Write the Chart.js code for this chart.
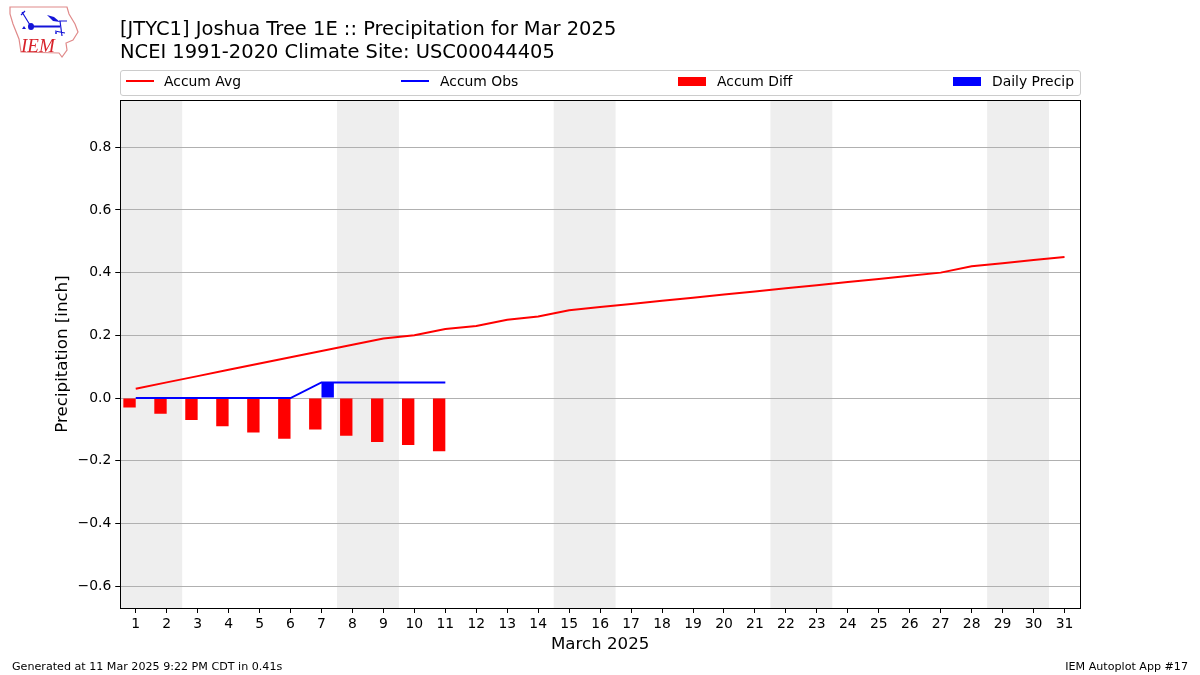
<!DOCTYPE html>
<html lang="en">
<head>
    <meta charset="UTF-8">
    <title>Precipitation for Mar 2025</title>
    <script src="https://cdn.jsdelivr.net/npm/chart.js@4.4.1/dist/chart.umd.min.js"></script>
    <style>
        html, body { margin: 0; padding: 0; background: #fff; }
        body { width: 1200px; height: 675px; position: relative; overflow: hidden; font-family: "DejaVu Sans", sans-serif; color: #000; }
        #chart { position: absolute; left: 0; top: 0; }
        #logo { position: absolute; left: 0; top: 0; }
        #title { position: absolute; left: 120px; top: 18px; font-size: 19.47px; line-height: 22.5px; white-space: nowrap; }
        #legend { position: absolute; left: 120px; top: 70px; box-sizing: border-box; height: 25.5px; width: 961px; border: 1px solid #ccc; border-radius: 3px; }
        #legend span { position: absolute; top: 1px; font-size: 13.9px; line-height: 18px; white-space: nowrap; }
        #legend i { position: absolute; width: 28px; }
        #foot-left, #foot-right { position: absolute; top: 660px; font-size: 11.12px; line-height: 14px; white-space: nowrap; }
        #foot-left { left: 12px; }
        #foot-right { right: 12px; }
    </style>
</head>
<body>
    <canvas id="chart" width="1200" height="675"></canvas>
    <svg id="logo" width="90" height="65" viewBox="0 0 90 65">
        <path d="M10 7 L67 7 L69 14 L75 24 L78 32 L73 40 L66 43 L67 50 L62 57 L59 53 L21 52 L19 39 L13 24 L10 14 Z" fill="#fff" stroke="#e08a8a" stroke-width="1.2"/>
        <g stroke="#1414d8" fill="#1414d8">
            <path d="M31 26.5 L60 26.5" stroke-width="2" fill="none"/>
            <path d="M59 21 L67 21 M60 21 L62 36 M22 12 L30 25 M21 15 L25 11 M55 31 L65 33" stroke-width="1.2" fill="none"/>
            <path d="M47 15 L54 17 L60 22 L53 21 Z" stroke="none"/>
            <ellipse cx="31" cy="26.5" rx="3" ry="3.6" stroke="none"/>
            <path d="M22 29 L24 26 L26 29 Z" stroke="none"/>
            <circle cx="56" cy="33" r="1" stroke="none"/>
        </g>
        <text x="21" y="51.5" font-family="Liberation Serif" font-style="italic" font-size="19" fill="#d8222a">IEM</text>
    </svg>
    <div id="title">[JTYC1] Joshua Tree 1E :: Precipitation for Mar 2025<br>NCEI 1991-2020 Climate Site: USC00044405</div>
    <div id="legend"></div>
    <div id="foot-left">Generated at 11 Mar 2025 9:22 PM CDT in 0.41s</div>
    <div id="foot-right">IEM Autoplot App #17</div>
    <script>
        const days = ["1","2","3","4","5","6","7","8","9","10","11","12","13","14","15","16","17","18","19","20","21","22","23","24","25","26","27","28","29","30","31"];
        const accumAvg = [0.03,0.05,0.07,0.09,0.11,0.13,0.15,0.17,0.19,0.20,0.22,0.23,0.25,0.26,0.28,0.29,0.30,0.31,0.32,0.33,0.34,0.35,0.36,0.37,0.38,0.39,0.40,0.42,0.43,0.44,0.45];
        const accumObs = [0,0,0,0,0,0,0.05,0.05,0.05,0.05,0.05];
        const accumDiff = [-0.03,-0.05,-0.07,-0.09,-0.11,-0.13,-0.10,-0.12,-0.14,-0.15,-0.17];
        const dailyPrecip = [0,0,0,0,0,0,0.05,0,0,0,0];
        const yTicks = [-0.6,-0.4,-0.2,0,0.2,0.4,0.6,0.8];
        // first and last day of each weekend, shaded in grey
        const weekends = [[1,2],[8,9],[15,16],[22,23],[29,30]];

        const frame = {
            id: "frame",
            beforeDraw(chart) {
                const { ctx, chartArea, scales } = chart;
                ctx.save();
                ctx.fillStyle = "#eeeeee";
                weekends.forEach(w => {
                    // days are category indexes, so day d sits at index d-1
                    const x0 = scales.x.getPixelForValue(w[0] - 1.5);
                    const x1 = scales.x.getPixelForValue(w[1] - 0.5);
                    ctx.fillRect(x0, chartArea.top, x1 - x0, chartArea.bottom - chartArea.top);
                });
                ctx.restore();
            },
            afterDraw(chart) {
                const { ctx, chartArea } = chart;
                const left = Math.floor(chartArea.left) + 0.5;
                ctx.save();
                ctx.strokeStyle = "#000";
                ctx.lineWidth = 1;
                ctx.strokeRect(left, chartArea.top + 0.5, 960, chartArea.bottom - chartArea.top);
                ctx.restore();
            }
        };

        const chart = new Chart(document.getElementById("chart").getContext("2d"), {
            type: "bar",
            data: {
                labels: days,
                datasets: [
                    { type: "line", label: "Accum Avg", data: accumAvg, borderColor: "#ff0000", backgroundColor: "#ff0000", borderWidth: 2, pointRadius: 0, tension: 0, order: 1 },
                    { type: "line", label: "Accum Obs", data: accumObs, borderColor: "#0000ff", backgroundColor: "#0000ff", borderWidth: 2, pointRadius: 0, tension: 0, order: 2 },
                    { label: "Accum Diff", data: accumDiff, backgroundColor: "#ff0000", categoryPercentage: 0.8, barPercentage: 1, order: 3 },
                    { label: "Daily Precip", data: dailyPrecip, backgroundColor: "#0000ff", categoryPercentage: 0.8, barPercentage: 1, order: 4 }
                ]
            },
            options: {
                responsive: false,
                animation: false,
                layout: { padding: { top: 100, right: 120, left: 0, bottom: 0 } },
                plugins: { legend: { display: false }, title: { display: false }, tooltip: { enabled: false } },
                scales: {
                    x: {
                        offset: true,
                        afterFit(scale) { scale.height = 67; },
                        grid: { offset: false, drawOnChartArea: false, tickLength: 5, tickColor: "#000", color: "#000" },
                        border: { display: false },
                        ticks: { color: "#000", autoSkip: false, maxRotation: 0, padding: 3, font: { family: "DejaVu Sans", size: 13.9 } },
                        title: { display: true, text: "March 2025", color: "#000", font: { family: "DejaVu Sans", size: 16.67 }, padding: { top: 4, bottom: 20 } }
                    },
                    y: {
                        min: -0.6695,
                        max: 0.9505,
                        afterFit(scale) { scale.width = 120.25; },
                        afterBuildTicks(scale) { scale.ticks = yTicks.map(v => ({ value: v })); },
                        grid: { color: "#b0b0b0", tickColor: "#000", tickLength: 5, lineWidth: 1 },
                        border: { display: false },
                        ticks: {
                            color: "#000",
                            padding: 4,
                            font: { family: "DejaVu Sans", size: 13.9 },
                            callback: v => v.toFixed(1).replace("-", "\u2212")
                        },
                        title: { display: true, text: "Precipitation [inch]", color: "#000", font: { family: "DejaVu Sans", size: 16.67 }, padding: { top: 53, bottom: 0 } }
                    }
                }
            },
            plugins: [frame]
        });

        // legend spread over the full width of the axes, like the original
        const legendPos = [[5, 43], [280, 319], [557, 596], [832, 871]];
        const legend = document.getElementById("legend");
        chart.data.datasets.forEach((ds, i) => {
            const mark = document.createElement("i");
            const isLine = ds.type === "line";
            mark.style.cssText = "left:" + legendPos[i][0] + "px;top:" + (isLine ? 9 : 5.5) + "px;height:" + (isLine ? 2 : 9) + "px;background:" + ds.backgroundColor;
            legend.appendChild(mark);
            const text = document.createElement("span");
            text.textContent = ds.label;
            text.style.left = legendPos[i][1] + "px";
            legend.appendChild(text);
        });
    </script>
</body>
</html>
